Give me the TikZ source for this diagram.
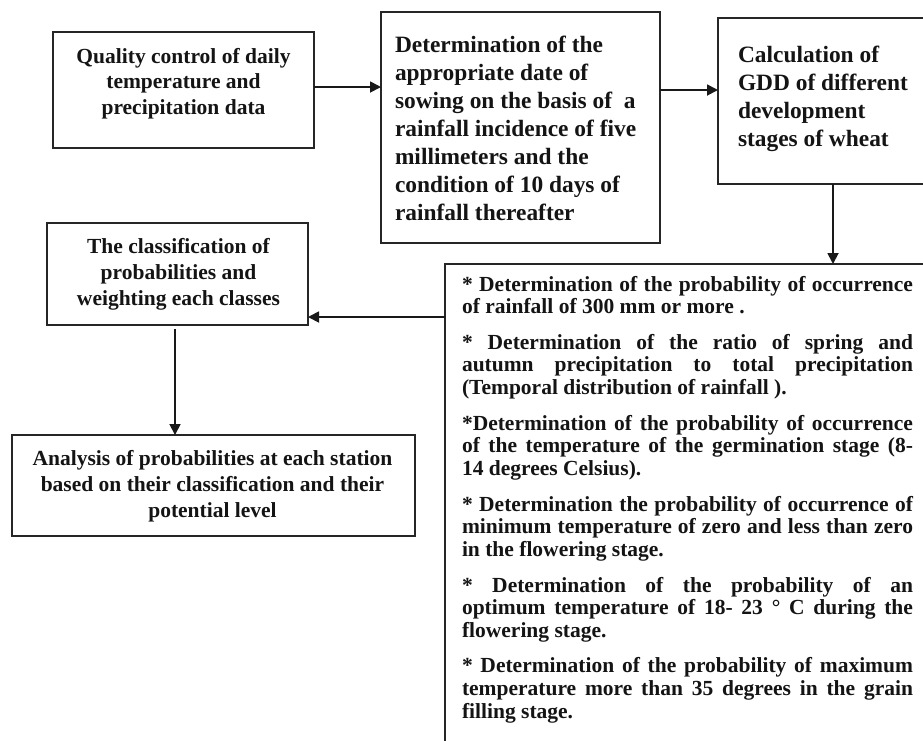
\documentclass[tikz,border=0pt]{standalone}
\usepackage{fontspec}
\setmainfont{Liberation Serif}
\usetikzlibrary{arrows.meta}
\newcommand\ftmain{\fontsize{21.5}{25.5}\selectfont\bfseries}
\newcommand\ftbig{\fontsize{23.4}{28}\selectfont\bfseries}
\newcommand\ftlist{\fontsize{21.5}{22.6}\selectfont\bfseries}
\begin{document}
\begin{tikzpicture}[x=1pt,y=-1pt,
  box/.style={draw=black!85, line width=1.8pt, rectangle, inner sep=0pt, outer sep=0pt},
  txt/.style={inner sep=0pt, outer sep=0pt, text=black!92},
  arr/.style={draw=black!90, line width=1.8pt, -{Triangle[length=11pt,width=11pt]}}
]
\useasboundingbox (0,0) rectangle (923,740);
\clip (0,0) rectangle (923,740);
\fill[white] (0,0) rectangle (923,740);

% boxes
\node[box, minimum width=261pt, minimum height=116pt] (A) at (183.5,90) {};
\node[box, minimum width=279pt, minimum height=231pt] (B) at (520.5,127.5) {};
\node[box, minimum width=222pt, minimum height=166pt] (C) at (829,101) {};
\node[box, minimum width=495pt, minimum height=496pt] (D) at (692.5,512) {};
\node[box, minimum width=261pt, minimum height=102pt] (E) at (177.5,274) {};
\node[box, minimum width=403pt, minimum height=101pt] (F) at (213.5,485.5) {};

% texts
\node[txt, anchor=base] (tA) at (183.5,63) {\parbox[t]{250pt}{\centering\ftmain
Quality control of daily\\ temperature and\\ precipitation data}};
\node[txt, anchor=base west] (tB) at (395,52) {\parbox[t]{262pt}{\raggedright\ftbig
Determination of the\\ appropriate date of\\ sowing on the basis of\ \ a\\ rainfall incidence of five\\ millimeters and the\\ condition of 10 days of\\ rainfall thereafter}};
\node[txt, anchor=base west] (tC) at (738,62) {\parbox[t]{200pt}{\raggedright\ftbig
Calculation of\\ GDD of different\\ development\\ stages of wheat}};
\node[txt, anchor=base] (tE) at (178.5,253) {\parbox[t]{250pt}{\centering\fontsize{21.5}{26}\selectfont\bfseries
The classification of\\ probabilities and\\ weighting each classes}};
\node[txt, anchor=base] (tF) at (212.5,465) {\parbox[t]{395pt}{\centering\fontsize{21.5}{26}\selectfont\bfseries
Analysis of probabilities at each station\\ based on their classification and their\\ potential level}};
\node[txt, anchor=base west] (tD) at (462,291) {\parbox[t]{451pt}{\ftlist
\setlength{\parskip}{13.1pt}\tolerance=10000\hyphenpenalty=10000\exhyphenpenalty=10000
* Determination of the probability of occurrence\linebreak of rainfall of 300 mm or more .\par
* Determination of the ratio of spring and\linebreak autumn precipitation to total precipitation\linebreak (Temporal distribution of rainfall ).\par
*Determination of the probability of occurrence\linebreak of the temperature of the germination stage (8-\linebreak 14 degrees Celsius).\par
* Determination the probability of occurrence of\linebreak minimum temperature of zero and less than zero\linebreak in the flowering stage.\par
* Determination of the probability of an\linebreak optimum temperature of 18- 23 ° C during the\linebreak flowering stage.\par
* Determination of the probability of maximum\linebreak temperature more than 35 degrees in the grain\linebreak filling stage.\par}};

% connectors
\coordinate (yAB) at (0,87);
\coordinate (yBC) at (0,90);
\coordinate (xCD) at (833,0);
\coordinate (yDE) at (0,317);
\coordinate (xEF) at (175,0);
\draw[arr] (A.east |- yAB) -- (B.west |- yAB);
\draw[arr] (B.east |- yBC) -- (C.west |- yBC);
\draw[arr] (xCD |- C.south) -- (xCD |- D.north);
\draw[arr] (D.west |- yDE) -- (E.east |- yDE);
\draw[arr, shorten <=4pt] (xEF |- E.south) -- (xEF |- F.north);
\end{tikzpicture}
\end{document}
